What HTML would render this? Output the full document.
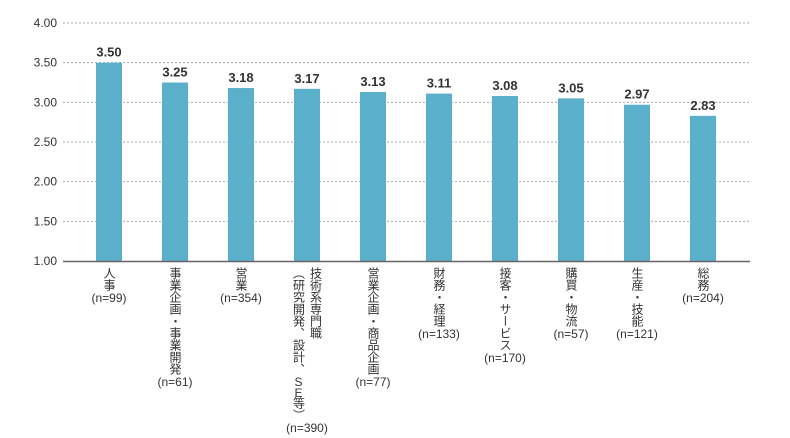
<!DOCTYPE html>
<html><head><meta charset="utf-8"><style>
body{margin:0;background:#fff;width:790px;height:438px;overflow:hidden;font-family:"Liberation Sans","Noto Sans CJK JP",sans-serif;color:#333}
.lab{position:absolute;top:267px;font-size:12px;line-height:13px;text-align:center;transform:translateX(-50%)}
.cols{display:flex;flex-direction:row-reverse;justify-content:center;align-items:flex-start;gap:3px}
.v{writing-mode:vertical-rl;text-orientation:upright;font-size:12px;line-height:14px;white-space:nowrap}
.se{letter-spacing:-3px}
.n{white-space:nowrap;margin-top:1px}
</style></head><body>
<svg id="chart" width="790" height="438" style="position:absolute;left:0;top:0"></svg>
<div id="labels"></div>
<script>
const categories=["人事","事業企画・事業開発","営業","技術系専門職|（研究開発、設計、SE等）","営業企画・商品企画","財務・経理","接客・サービス","購買・物流","生産・技能","総務"];
const counts=["(n=99)","(n=61)","(n=354)","(n=390)","(n=77)","(n=133)","(n=170)","(n=57)","(n=121)","(n=204)"];
const values=[3.50,3.25,3.18,3.17,3.13,3.11,3.08,3.05,2.97,2.83];
const ticks=[1.00,1.50,2.00,2.50,3.00,3.50,4.00];
const NS="http://www.w3.org/2000/svg";
const svg=document.getElementById('chart');
const x0=63,x1=750,yMin=1,yMax=4,yB=261,yT=23;
const y=v=>yB-(v-yMin)/(yMax-yMin)*(yB-yT);
const cx=i=>109+66*i;
function mk(t,a){const e=document.createElementNS(NS,t);for(const k in a)e.setAttribute(k,a[k]);svg.appendChild(e);return e;}
ticks.forEach(t=>{
  if(t>yMin){const g=mk('line',{x1:x0,x2:x1,y1:y(t),y2:y(t),stroke:'#aaa','stroke-dasharray':'2,2','stroke-width':1});
  
  }
  const tx=mk('text',{x:57,y:y(t)+4,'text-anchor':'end','font-size':12,fill:'#333'});
  tx.textContent=t.toFixed(2);
  
  
});
values.forEach((v,i)=>{
  const r=mk('rect',{x:cx(i)-13,y:y(v),width:26,height:yB-y(v),fill:'#5aafca'});
  
  
  const t=mk('text',{x:cx(i),y:y(v)-6,'text-anchor':'middle','font-size':13,'font-weight':'bold',fill:'#333'});
  t.textContent=v.toFixed(2);
  
  
});
const ax=mk('line',{x1:x0,x2:x1,y1:yB+0.5,y2:yB+0.5,stroke:'#666','stroke-width':1.5});


const L=document.getElementById('labels');
categories.forEach((c,i)=>{
  const d=document.createElement('div');d.className='lab';d.style.left=cx(i)+'px';
  
  
  const cols=document.createElement('div');cols.className='cols';
  c.split('|').forEach(part=>{
    const v=document.createElement('div');v.className='v';
    v.innerHTML=part.replace('SE','<span class="se">SE</span>');
    cols.appendChild(v);
  });
  const n=document.createElement('div');n.className='n';n.textContent=counts[i];
  d.appendChild(cols);d.appendChild(n);L.appendChild(d);
});
</script>
</body></html>
